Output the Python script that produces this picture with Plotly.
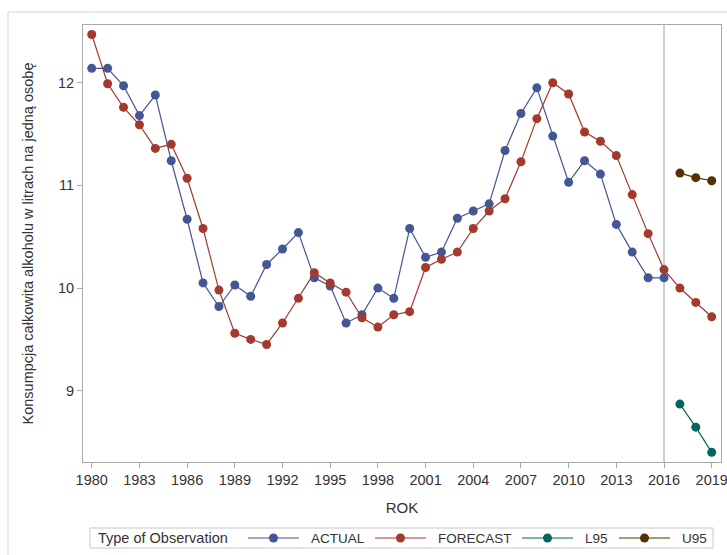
import plotly.graph_objects as go

# Per-capita total alcohol consumption (litres) with forecast and 95% limits
years = list(range(1980, 2017))
actual = [12.14, 12.14, 11.97, 11.68, 11.88, 11.24, 10.67, 10.05, 9.82, 10.03,
          9.92, 10.23, 10.38, 10.54, 10.10, 10.02, 9.66, 9.74, 10.00, 9.90,
          10.58, 10.30, 10.35, 10.68, 10.75, 10.82, 11.34, 11.70, 11.95, 11.48,
          11.03, 11.24, 11.11, 10.62, 10.35, 10.10, 10.10]

forecast_years = list(range(1980, 2020))
forecast = [12.47, 11.99, 11.76, 11.59, 11.36, 11.40, 11.07, 10.58, 9.98, 9.56,
            9.50, 9.45, 9.66, 9.90, 10.15, 10.05, 9.96, 9.71, 9.62, 9.74,
            9.77, 10.20, 10.28, 10.35, 10.58, 10.75, 10.87, 11.23, 11.65, 12.00,
            11.89, 11.52, 11.43, 11.29, 10.91, 10.53, 10.18, 10.00, 9.86, 9.72]

limit_years = [2017, 2018, 2019]
l95 = [8.87, 8.645, 8.40]
u95 = [11.12, 11.075, 11.045]

x_ticks = list(range(1980, 2020, 3))
y_ticks = [9, 10, 11, 12]

series_names = ["ACTUAL", "FORECAST", "L95", "U95"]
series_colors = ["#445694", "#A23A2E", "#01665E", "#543005"]

FONT = "Liberation Sans, Arial, sans-serif"
TEXT = "#333333"
W, H = 727, 555
L, R, T, B = 83, 6, 25, 93

fig = go.Figure()
for name, xs, ys, col in zip(series_names,
                             [years, forecast_years, limit_years, limit_years],
                             [actual, forecast, l95, u95], series_colors):
    fig.add_trace(go.Scatter(
        x=xs, y=ys, name=name, mode="lines+markers",
        line=dict(color=col, width=1.2),
        marker=dict(color=col, size=9, line=dict(width=0)),
        showlegend=False,
    ))

# separator between history and forecast horizon
fig.add_shape(type="line", xref="x", yref="paper", x0=2016, x1=2016, y0=0, y1=1,
              line=dict(color="#A0A0A0", width=1), layer="below")

pw, ph = W - L - R, H - T - B


def px(x):
    return (x - L) / pw


def py(y):
    return (H - B - y) / ph


# outer frame
fig.add_shape(type="rect", xref="paper", yref="paper",
              x0=px(8), x1=px(735), y0=py(12), y1=py(562),
              line=dict(color="#D4D4D4", width=1), layer="below")

# legend box
leg_top, leg_bot, leg_mid = 528, 548, 538
fig.add_shape(type="rect", xref="paper", yref="paper",
              x0=px(90), x1=px(713), y0=py(leg_bot), y1=py(leg_top),
              line=dict(color="#C8C8C8", width=1))
fig.add_annotation(xref="paper", yref="paper", x=px(96), y=py(leg_mid),
                   text="Type of Observation", showarrow=False,
                   xanchor="left", yanchor="middle",
                   font=dict(family=FONT, size=14.5, color=TEXT))

glyph_start = [248, 375, 522, 619]
for name, col, gx in zip(series_names, series_colors, glyph_start):
    fig.add_shape(type="line", xref="paper", yref="paper",
                  x0=px(gx), x1=px(gx + 51), y0=py(leg_mid), y1=py(leg_mid),
                  line=dict(color=col, width=1.2))
    cx = px(gx + 25.5)
    fig.add_shape(type="circle", xref="paper", yref="paper",
                  xsizemode="pixel", ysizemode="pixel",
                  xanchor=cx, yanchor=py(leg_mid),
                  x0=-4.5, x1=4.5, y0=-4.5, y1=4.5,
                  fillcolor=col, line=dict(width=0))
    fig.add_annotation(xref="paper", yref="paper", x=px(gx + 61), y=py(leg_mid),
                       text=name, showarrow=False,
                       xanchor="left", yanchor="middle",
                       font=dict(family=FONT, size=13.5, color=TEXT))

axis_common = dict(
    showline=True, mirror=True, linecolor="#A8A8A8", linewidth=1,
    showgrid=False, zeroline=False, automargin=False,
    ticks="outside", ticklen=5, tickcolor="#A8A8A8",
    tickfont=dict(family=FONT, size=14.5, color=TEXT),
    ticklabeloverflow="allow",
)

fig.update_layout(
    width=W, height=H, autosize=False,
    margin=dict(l=L, r=R, t=T, b=B),
    paper_bgcolor="white", plot_bgcolor="white",
    xaxis=dict(range=[1979.45, 2019.585], tickvals=x_ticks,
               title=dict(text="ROK", standoff=15,
                          font=dict(family=FONT, size=15, color=TEXT)),
               **axis_common),
    yaxis=dict(range=[8.306, 12.562], tickvals=y_ticks,
               title=dict(text="Konsumpcja całkowita alkoholu w litrach na jedną osobę",
                          standoff=20,
                          font=dict(family=FONT, size=14.5, color=TEXT)),
               **axis_common),
)

fig.write_html("out.html")
